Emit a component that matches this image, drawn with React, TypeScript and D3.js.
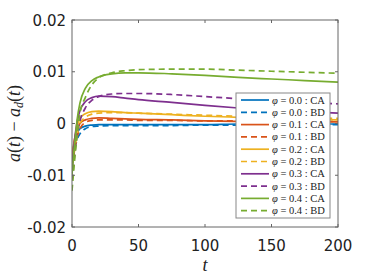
import * as d3 from 'd3';

// time samples shared by every series
const tVals = [0, 1, 2, 4, 6, 10, 15, 20, 30, 40, 50, 75, 100, 125, 150, 175, 200];

// a(t) - a_d(t)
const ca00 = [-0.0065, -0.0048, -0.0035, -0.0018, -0.001, -0.0005, -0.0003, -0.0002, -0.0002, -0.0002, -0.0002, -0.0002, -0.0002, -0.0001, -0.0001, -0.0001, -0.0001];
const bd00 = [-0.0085, -0.0065, -0.005, -0.003, -0.002, -0.001, -0.0006, -0.0005, -0.0004, -0.0004, -0.0004, -0.0004, -0.0003, -0.0003, -0.0003, -0.0002, -0.0002];
const ca01 = [-0.0065, -0.0045, -0.003, -0.001, 0, 0.0007, 0.001, 0.0011, 0.001, 0.0009, 0.0008, 0.0007, 0.0005, 0.0004, 0.0003, 0.0003, 0.0003];
const bd01 = [-0.0085, -0.0065, -0.005, -0.0025, -0.001, 0.0002, 0.0006, 0.0007, 0.0007, 0.0007, 0.0006, 0.0006, 0.0005, 0.0005, 0.0004, 0.0004, 0.0004];
const ca02 = [-0.0075, -0.005, -0.003, -0.0005, 0.001, 0.0019, 0.0023, 0.0024, 0.0023, 0.0021, 0.002, 0.0017, 0.0014, 0.0012, 0.001, 0.0008, 0.0007];
const bd02 = [-0.0095, -0.007, -0.005, -0.002, 0, 0.0012, 0.0018, 0.002, 0.0021, 0.0021, 0.002, 0.0018, 0.0016, 0.0014, 0.0012, 0.0011, 0.001];
const ca03 = [-0.0085, -0.0055, -0.003, 0.0005, 0.0025, 0.0042, 0.005, 0.0053, 0.0052, 0.0049, 0.0046, 0.0041, 0.0035, 0.003, 0.0026, 0.0023, 0.002];
const bd03 = [-0.011, -0.0085, -0.006, -0.002, 0.0005, 0.003, 0.0045, 0.0052, 0.0057, 0.0058, 0.0058, 0.0056, 0.0052, 0.0048, 0.0045, 0.0041, 0.0038];
const ca04 = [-0.01, -0.0065, -0.004, 0.001, 0.004, 0.0068, 0.0083, 0.009, 0.0096, 0.0098, 0.0098, 0.0096, 0.0093, 0.0089, 0.0086, 0.0083, 0.008];
const bd04 = [-0.013, -0.01, -0.007, -0.002, 0.002, 0.005, 0.0075, 0.0088, 0.0098, 0.0102, 0.0104, 0.0105, 0.0105, 0.0103, 0.0101, 0.0099, 0.0097];

const legendLabels = ['0.0 : CA', '0.0 : BD', '0.1 : CA', '0.1 : BD', '0.2 : CA', '0.2 : BD', '0.3 : CA', '0.3 : BD', '0.4 : CA', '0.4 : BD'];
const xTicks = [0, 50, 100, 150, 200];
const yTicks = [-0.02, -0.01, 0, 0.01, 0.02];

const colors = ['#0072BD', '#D95319', '#EDB120', '#7E2F8E', '#77AC30'];
const seriesList = [ca00, bd00, ca01, bd01, ca02, bd02, ca03, bd03, ca04, bd04];

export default function App() {
  const W = 374, H = 280;
  const left = 72, right = 338, top = 20, bottom = 227;

  const x = d3.scaleLinear().domain([0, 200]).range([left, right]);
  const y = d3.scaleLinear().domain([-0.02, 0.02]).range([bottom, top]);

  const line = d3.line<number>()
    .x((_, i) => x(tVals[i]))
    .y(d => y(d))
    .curve(d3.curveMonotoneX);

  const axisColor = '#666';
  const tickFont = "'DejaVu Sans', sans-serif";
  const serif = "'Liberation Serif', 'DejaVu Serif', serif";

  // legend geometry
  const lgX = 236, lgY = 93, lgW = 94, lgH = 125;
  const rowH = 12.3;

  return (
    <svg width={W} height={H} style={{ position: 'absolute', left: 0, top: 0, background: '#fff' }}>
      <rect x={0} y={0} width={W} height={H} fill="#fff" />
      <defs>
        <clipPath id="plot">
          <rect x={left} y={top} width={right - left} height={bottom - top} />
        </clipPath>
      </defs>

      <g clipPath="url(#plot)">
        {seriesList.map((s, i) => (
          <path
            key={i}
            d={line(s) || ''}
            fill="none"
            stroke={colors[Math.floor(i / 2)]}
            strokeWidth={1.7}
            strokeDasharray={i % 2 === 1 ? '6,4' : undefined}
          />
        ))}
      </g>

      {/* box */}
      <rect x={left} y={top} width={right - left} height={bottom - top} fill="none" stroke={axisColor} strokeWidth={1} />

      {/* x ticks */}
      {xTicks.map(t => (
        <g key={'x' + t}>
          <line x1={x(t)} x2={x(t)} y1={bottom} y2={bottom - 3} stroke={axisColor} />
          <line x1={x(t)} x2={x(t)} y1={top} y2={top + 3} stroke={axisColor} />
          <text x={x(t)} y={bottom + 24} textAnchor="middle" fontFamily={tickFont} fontSize={15} fill="#222">
            {d3.format('d')(t)}
          </text>
        </g>
      ))}

      {/* y ticks */}
      {yTicks.map(v => (
        <g key={'y' + v}>
          <line x1={left} x2={left + 3} y1={y(v)} y2={y(v)} stroke={axisColor} />
          <line x1={right} x2={right - 3} y1={y(v)} y2={y(v)} stroke={axisColor} />
          <text x={left - 6} y={y(v) + 5.5} textAnchor="end" fontFamily={tickFont} fontSize={15} fill="#222">
            {v === 0 ? '0' : d3.format('.2f')(v).replace('−', '-')}
          </text>
        </g>
      ))}

      {/* axis labels */}
      <text x={205} y={271} textAnchor="middle" fontFamily={serif} fontStyle="italic" fontSize={18} fill="#222">t</text>
      <text
        transform={`translate(20,${(top + bottom) / 2}) rotate(-90)`}
        textAnchor="middle"
        fontFamily={serif}
        fontSize={18}
        fill="#222"
      >
        <tspan fontStyle="italic">a</tspan>(<tspan fontStyle="italic">t</tspan>) − <tspan fontStyle="italic">a</tspan>
        <tspan fontStyle="italic" fontSize={12} dy={3}>d</tspan>
        <tspan dy={-3}>(</tspan><tspan fontStyle="italic">t</tspan>)
      </text>

      {/* legend */}
      <rect x={lgX} y={lgY} width={lgW} height={lgH} fill="#fff" stroke="#888" strokeWidth={1} />
      {legendLabels.map((lab, i) => {
        const cy = lgY + 7 + i * rowH;
        return (
          <g key={lab}>
            <line
              x1={lgX + 5}
              x2={lgX + 33}
              y1={cy}
              y2={cy}
              stroke={colors[Math.floor(i / 2)]}
              strokeWidth={1.7}
              strokeDasharray={i % 2 === 1 ? '6,4' : undefined}
            />
            <text x={lgX + 36} y={cy + 3.5} fontFamily={serif} fontSize={10.5} fill="#222">
              <tspan fontStyle="italic">φ</tspan> = {lab}
            </text>
          </g>
        );
      })}
    </svg>
  );
}
